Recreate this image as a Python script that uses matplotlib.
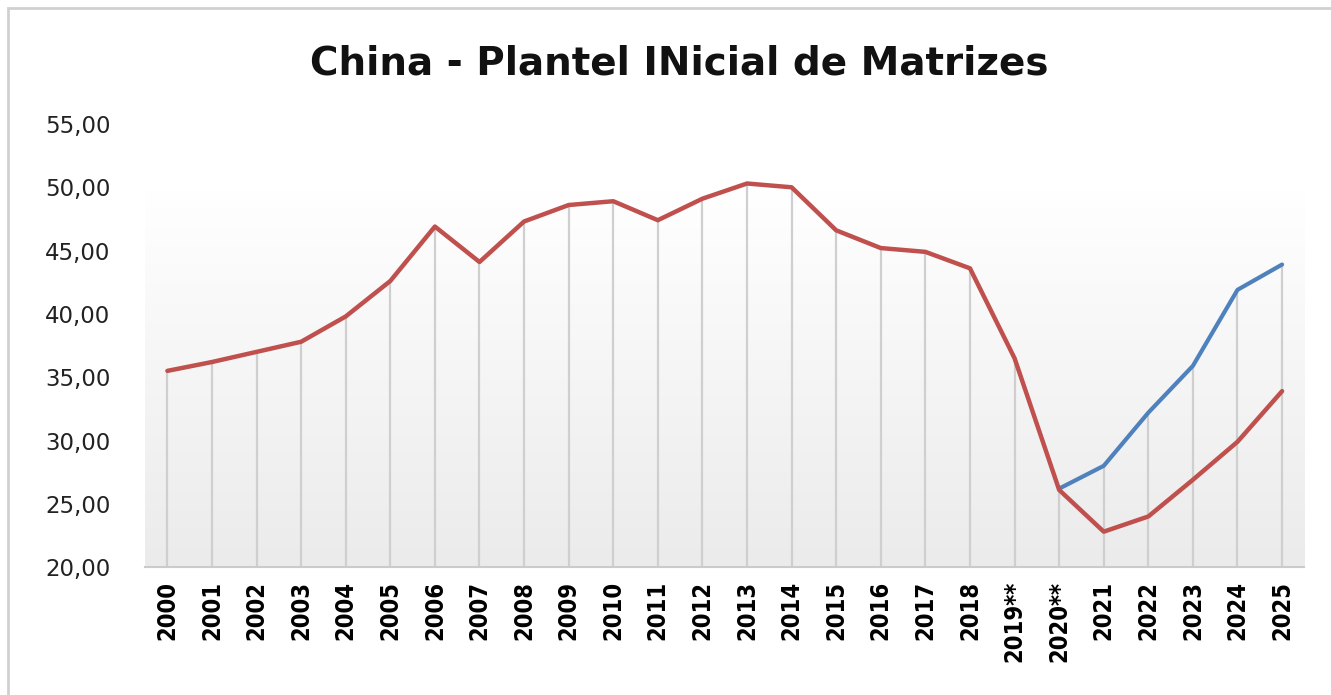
import numpy as np
import matplotlib
matplotlib.use("Agg")
import matplotlib.pyplot as plt
from matplotlib.patches import Rectangle

years = ["2000", "2001", "2002", "2003", "2004", "2005", "2006", "2007", "2008",
         "2009", "2010", "2011", "2012", "2013", "2014", "2015", "2016", "2017",
         "2018", "2019**", "2020**", "2021", "2022", "2023", "2024", "2025"]

# red series: full history + low projection
red_vals = [35.5, 36.2, 37.0, 37.8, 39.8, 42.6, 46.9, 44.1, 47.3, 48.6, 48.9,
            47.4, 49.1, 50.3, 50.0, 46.6, 45.2, 44.9, 43.6, 36.5, 26.1,
            22.8, 24.0, 26.9, 29.9, 33.9]
# blue series: high projection from 2020**
blue_years = ["2020**", "2021", "2022", "2023", "2024", "2025"]
blue_vals = [26.2, 28.0, 32.2, 35.9, 41.9, 43.9]

x = np.arange(len(years))
xb = np.array([years.index(y) for y in blue_years])

fig = plt.figure(figsize=(13.31, 6.95), dpi=100)
ax = fig.add_axes([0.109, 0.184, 0.871, 0.6376])

ax.set_xlim(-0.5, len(years) - 0.5)
ax.set_ylim(20, 55)

# gradient plot area background: white at top, light gray at bottom
grad = np.linspace(0.0, 1.0, 256).reshape(-1, 1)
cmap = matplotlib.colors.LinearSegmentedColormap.from_list(
    "g", [(0, "#ffffff"), (0.15, "#ffffff"), (1, "#ebebeb")])
ax.imshow(grad, extent=[-0.5, len(years) - 0.5, 20, 55], aspect="auto",
          cmap=cmap, vmin=0, vmax=1, zorder=0, origin="upper")

# drop lines to the highest point of each category
top = np.array(red_vals, dtype=float)
for xi, v in zip(xb, blue_vals):
    top[xi] = max(top[xi], v)
ax.vlines(x, 20, top, color="#cfcfcf", lw=1.6, zorder=1)

ax.plot(x, red_vals, color="#c0504d", lw=3.2, solid_capstyle="round",
        solid_joinstyle="round", zorder=3)
ax.plot(xb, blue_vals, color="#4f81bd", lw=3.0, solid_capstyle="round",
        solid_joinstyle="round", zorder=2)

ax.set_yticks(np.arange(20, 56, 5))
ax.set_yticklabels([f"{v:.2f}".replace(".", ",") for v in np.arange(20, 56, 5)],
                   fontsize=16.5, color="#222222")
ax.set_xticks(x)
ax.set_xticklabels(years, rotation=90, fontsize=17, fontweight="bold",
                   fontstretch="condensed")
ax.tick_params(axis="y", length=0, pad=25)
ax.tick_params(axis="x", length=0, pad=10)

for s in ["top", "right", "left"]:
    ax.spines[s].set_visible(False)
ax.spines["bottom"].set_color("#c8cccc")
ax.spines["bottom"].set_linewidth(1.5)

fig.text(0.51, 0.909, "China - Plantel INicial de Matrizes", ha="center", va="center",
         fontsize=28, fontweight="bold", color="#111111")

# chart border
fig.patches.append(Rectangle((0.006, -0.01), 1.0, 0.999, transform=fig.transFigure,
                             fill=False, edgecolor="#d0d0d0", lw=2))

fig.savefig("out.png", dpi=100)
